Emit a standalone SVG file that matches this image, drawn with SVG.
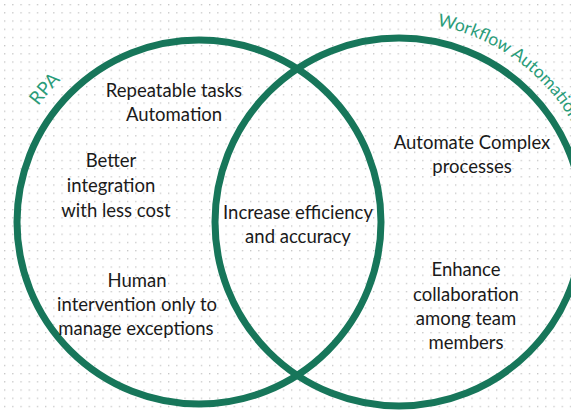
<svg xmlns="http://www.w3.org/2000/svg" width="571" height="412" viewBox="0 0 571 412">
  <defs>
    <pattern id="dots" x="4" y="4" width="8.2" height="8.2" patternUnits="userSpaceOnUse">
      <rect x="0" y="0" width="1.3" height="1.3" fill="#c4c4c4"/>
    </pattern>
    <!-- baselines for the curved set labels -->
    <path id="rpaArc" d="M 4.0 187.6 A 198 198 0 0 1 164.6 27.0" fill="none"/>
    <path id="wfArc" d="M 437.0 25.7 A 200 200 0 0 1 595.6 256.6" fill="none"/>
    <style>
      .ring { fill: none; stroke: #17765a; stroke-width: 7; }
      .item { font-family: Lato, "Liberation Sans", sans-serif; font-size: 18.5px; fill: #1a1a1a; text-anchor: middle; }
      .set { font-family: Lato, "Liberation Sans", sans-serif; font-size: 18.5px; fill: #2a9c79; }
      .set.wf { font-size: 17.5px; }
    </style>
  </defs>

  <rect width="571" height="412" fill="#ffffff"/>
  <rect width="571" height="412" fill="url(#dots)"/>

  <g id="rpa">
    <circle class="ring" cx="199" cy="222" r="182"/>
    <text class="set"><textPath href="#rpaArc" startOffset="44%" text-anchor="middle">RPA</textPath></text>
  </g>

  <g id="workflow-automation">
    <circle class="ring" cx="399" cy="222" r="184"/>
    <text class="set wf"><textPath href="#wfArc">Workflow Automation</textPath></text>
  </g>

  <g id="rpa-items">
    <text class="item" x="174" y="97">Repeatable tasks</text>
    <text class="item" x="174" y="121">Automation</text>
    <text class="item" x="111" y="167">Better</text>
    <text class="item" x="111" y="192">integration</text>
    <text class="item" x="116" y="217">with less cost</text>
    <text class="item" x="137" y="287">Human</text>
    <text class="item" x="137" y="311">intervention only to</text>
    <text class="item" x="136" y="335">manage exceptions</text>
  </g>

  <g id="shared-items">
    <text class="item" x="298" y="219">Increase efficiency</text>
    <text class="item" x="298" y="243">and accuracy</text>
  </g>

  <g id="workflow-items">
    <text class="item" x="472" y="149">Automate Complex</text>
    <text class="item" x="472" y="173">processes</text>
    <text class="item" x="466" y="276">Enhance</text>
    <text class="item" x="466" y="301">collaboration</text>
    <text class="item" x="466" y="325">among team</text>
    <text class="item" x="466" y="349">members</text>
  </g>
</svg>
